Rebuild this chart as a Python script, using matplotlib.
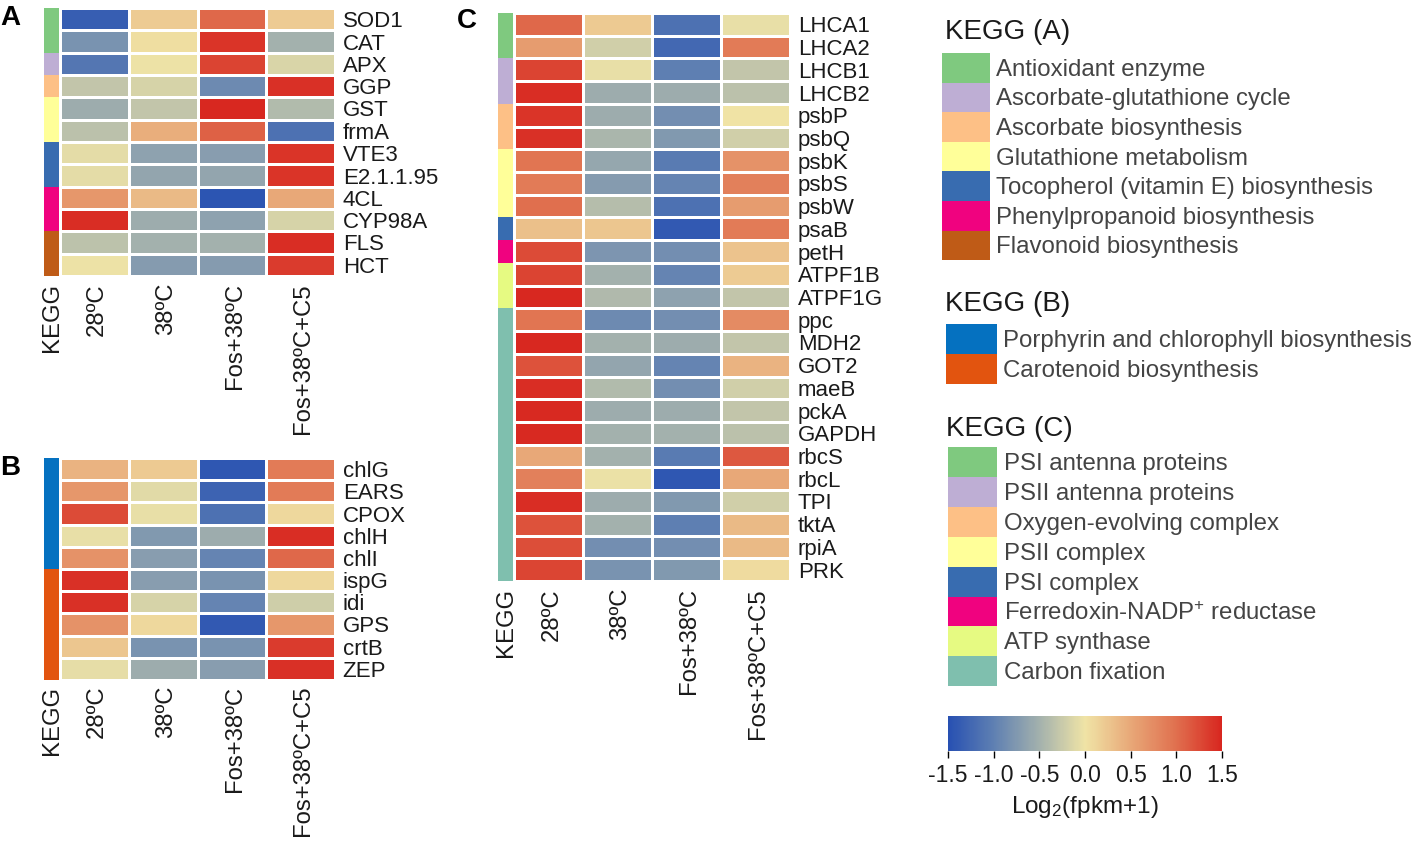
import numpy as np
import matplotlib
matplotlib.use('Agg')
import matplotlib.pyplot as plt
from matplotlib.colors import LinearSegmentedColormap, ListedColormap
from matplotlib.cm import ScalarMappable
from matplotlib.colors import Normalize
from matplotlib.patches import Rectangle

plt.rcParams['font.family'] = ['Liberation Sans', 'DejaVu Sans']
plt.rcParams['mathtext.default'] = 'regular'

W, H = 1417, 843

treatments = ['28ºC', '38ºC', 'Fos+38ºC', 'Fos+38ºC+C5']

genes_a = ['SOD1', 'CAT', 'APX', 'GGP', 'GST', 'frmA', 'VTE3', 'E2.1.1.95', '4CL', 'CYP98A', 'FLS', 'HCT']
values_a = [
    [-1.35, 0.20, 1.05, 0.20],
    [-0.80, 0.05, 1.40, -0.50],
    [-1.10, -0.02, 1.30, -0.15],
    [-0.30, -0.17, -0.90, 1.42],
    [-0.55, -0.30, 1.48, -0.40],
    [-0.35, 0.45, 1.10, -1.15],
    [-0.08, -0.65, -0.70, 1.40],
    [-0.08, -0.62, -0.62, 1.40],
    [0.65, 0.35, -1.45, 0.50],
    [1.45, -0.55, -0.65, -0.17],
    [-0.33, -0.50, -0.50, 1.45],
    [-0.02, -0.72, -0.72, 1.35],
]
groups_a = [0, 0, 1, 2, 3, 3, 4, 4, 5, 5, 6, 6]

genes_b = ['chlG', 'EARS', 'CPOX', 'chlH', 'chlI', 'ispG', 'idi', 'GPS', 'crtB', 'ZEP']
values_b = [
    [0.40, 0.22, -1.42, 0.90],
    [0.65, -0.10, -1.30, 0.90],
    [1.25, -0.05, -1.15, 0.10],
    [-0.05, -0.75, -0.55, 1.45],
    [0.70, -0.70, -0.95, 1.05],
    [1.42, -0.70, -0.80, 0.10],
    [1.42, -0.17, -0.95, -0.22],
    [0.70, 0.10, -1.40, 0.65],
    [0.25, -0.80, -0.80, 1.35],
    [-0.07, -0.55, -0.70, 1.42],
]
groups_b = [0, 0, 0, 0, 0, 1, 1, 1, 1, 1]

genes_c = ['LHCA1', 'LHCA2', 'LHCB1', 'LHCB2', 'psbP', 'psbQ', 'psbK', 'psbS', 'psbW', 'psaB', 'petH',
           'ATPF1B', 'ATPF1G', 'ppc', 'MDH2', 'GOT2', 'maeB', 'pckA', 'GAPDH', 'rbcS', 'rbcL', 'TPI',
           'tktA', 'rpiA', 'PRK']
values_c = [
    [1.05, 0.22, -1.15, -0.05],
    [0.60, -0.20, -1.25, 0.90],
    [1.30, -0.05, -1.00, -0.30],
    [1.45, -0.55, -0.55, -0.35],
    [1.40, -0.55, -0.85, 0.00],
    [1.42, -0.45, -0.75, -0.20],
    [0.95, -0.60, -1.05, 0.70],
    [0.90, -0.72, -0.95, 0.85],
    [1.00, -0.38, -1.15, 0.60],
    [0.30, 0.25, -1.40, 0.90],
    [1.25, -0.78, -0.85, 0.28],
    [1.30, -0.50, -0.95, 0.20],
    [1.48, -0.42, -0.65, -0.30],
    [0.95, -0.90, -0.85, 0.75],
    [1.48, -0.50, -0.55, -0.30],
    [1.20, -0.62, -0.95, 0.40],
    [1.45, -0.40, -0.85, -0.20],
    [1.47, -0.55, -0.55, -0.30],
    [1.47, -0.50, -0.50, -0.35],
    [0.50, -0.50, -1.05, 1.15],
    [0.85, -0.03, -1.42, 0.50],
    [1.45, -0.55, -0.75, -0.20],
    [1.20, -0.50, -1.00, 0.35],
    [1.22, -0.85, -0.85, 0.35],
    [1.28, -0.80, -0.75, 0.08],
]
groups_c = [0, 0, 1, 1, 2, 2, 3, 3, 3, 4, 5, 6, 6, 7, 7, 7, 7, 7, 7, 7, 7, 7, 7, 7, 7]

kegg_a = ['Antioxidant enzyme', 'Ascorbate-glutathione cycle', 'Ascorbate biosynthesis', 'Glutathione metabolism',
          'Tocopherol (vitamin E) biosynthesis', 'Phenylpropanoid biosynthesis', 'Flavonoid biosynthesis']
colors_a = ['#7fc97f', '#beaed4', '#fdc086', '#ffff99', '#386cb0', '#f0027f', '#bf5b17']

kegg_b = ['Porphyrin and chlorophyll biosynthesis', 'Carotenoid biosynthesis']
colors_b = ['#0571c0', '#e2540f']

kegg_c = ['PSI antenna proteins', 'PSII antenna proteins', 'Oxygen-evolving complex', 'PSII complex', 'PSI complex',
          'Ferredoxin-NADP$^{+}$ reductase', 'ATP synthase', 'Carbon fixation']
colors_c = ['#7fc97f', '#beaed4', '#fdc086', '#ffff99', '#386cb0', '#f0027f', '#e6fa82', '#7fbfae']

cbar_ticks = [-1.5, -1.0, -0.5, 0.0, 0.5, 1.0, 1.5]

heat_cmap = LinearSegmentedColormap.from_list(
    'heat', ['#2750b2', '#5f80b2', '#a3b1ad', '#f0e4a6', '#e8a878', '#e0704f', '#d8261f'])


def px_axes(x0, y0, x1, y1):
    # pixel box from the top left corner -> figure axes
    return fig.add_axes([x0 / W, 1 - y1 / H, (x1 - x0) / W, (y1 - y0) / H])


def heatmap(box, strip_x, genes, values, groups, colors, label_pad):
    x0, y0, x1, y1 = box
    ax = px_axes(x0, y0, x1, y1)
    ax.pcolormesh(np.array(values), cmap=heat_cmap, vmin=-1.5, vmax=1.5, edgecolors='white', linewidth=0.8)
    ax.invert_yaxis()
    ax.yaxis.tick_right()
    ax.set_yticks(np.arange(len(genes)) + 0.5, genes, fontsize=16, color='#1a1a1a')
    # column labels sit a little right of the cell centres in the original
    ax.set_xticks(np.arange(4) + 0.54, treatments, rotation=90, fontsize=17.2, color='#1a1a1a')
    ax.tick_params(axis='both', length=0)
    ax.tick_params(axis='y', pad=5.5)
    ax.tick_params(axis='x', pad=label_pad)
    for s in ax.spines.values():
        s.set_visible(False)

    # KEGG side strip
    sx = px_axes(strip_x[0], y0, strip_x[1], y1)
    sx.pcolormesh(np.array(groups).reshape(-1, 1), cmap=ListedColormap(colors), vmin=0, vmax=len(colors))
    sx.invert_yaxis()
    sx.set_yticks([])
    sx.set_xticks([0.55], ['KEGG'], rotation=90, fontsize=17.2, color='#1a1a1a')
    sx.tick_params(axis='x', length=0, pad=label_pad)
    for s in sx.spines.values():
        s.set_visible(False)


def legend_block(title, title_x, title_y, names, colors, sx0, sx1, top, row_h, text_x):
    over.text(title_x, title_y, title, fontsize=20, color='#1a1a1a', va='center', ha='left')
    for i, (name, col) in enumerate(zip(names, colors)):
        over.add_patch(Rectangle((sx0, top + i * row_h), sx1 - sx0, row_h, facecolor=col, edgecolor='none'))
        over.text(text_x, top + (i + 0.5) * row_h + 2, name, fontsize=17.3, color='#444444', va='center', ha='left')


fig = plt.figure(figsize=(W / 100, H / 100), dpi=100, facecolor='white')

heatmap((60, 8, 335, 276), (44, 59), genes_a, values_a, groups_a, colors_a, 5)
heatmap((60, 458, 335, 680), (44, 59), genes_b, values_b, groups_b, colors_b, 4)
heatmap((514, 13, 790, 581), (498, 513), genes_c, values_c, groups_c, colors_c, 5)

# overlay in pixel units for legends and panel letters
over = fig.add_axes([0, 0, 1, 1], facecolor='none')
over.set_xlim(0, W)
over.set_ylim(H, 0)
over.axis('off')

for letter, lx, ly in [('A', 0, 18), ('B', 0, 468), ('C', 457, 21)]:
    over.text(lx, ly, letter, fontsize=20, fontweight='bold', color='black', va='center', ha='left')

legend_block('KEGG (A)', 945, 32, kegg_a, colors_a, 942, 990, 53, 29.6, 996)
legend_block('KEGG (B)', 945, 304, kegg_b, colors_b, 946, 997, 324, 30, 1003)
legend_block('KEGG (C)', 946, 429, kegg_c, colors_c, 948, 997, 447, 29.9, 1004)

cax = px_axes(948, 716, 1222, 751)
cb = fig.colorbar(ScalarMappable(norm=Normalize(-1.5, 1.5), cmap=heat_cmap), cax=cax, orientation='horizontal')
cb.set_ticks(cbar_ticks, labels=['%.1f' % t for t in cbar_ticks])
cb.ax.tick_params(labelsize=16.5, length=5, width=1, pad=4, labelcolor='#1a1a1a')
cb.outline.set_visible(False)
cb.set_label('Log$_2$(fpkm+1)', fontsize=17.5, color='#1a1a1a', labelpad=5.5)

fig.savefig('out.png', dpi=100)
